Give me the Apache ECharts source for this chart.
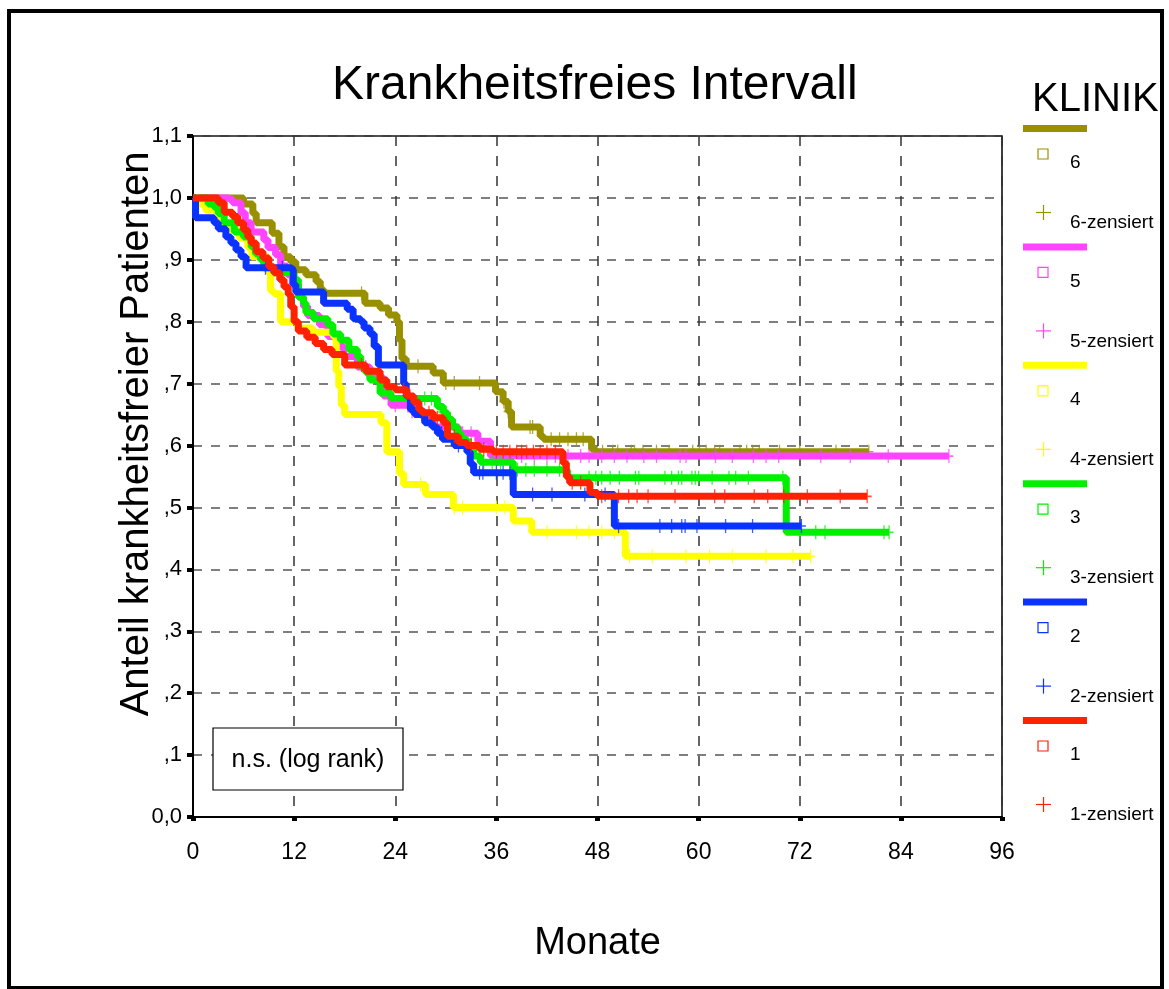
<!DOCTYPE html>
<html>
<head>
<meta charset="utf-8">
<script src="https://cdn.jsdelivr.net/npm/echarts@6/dist/echarts.min.js"></script>
<style>
  html, body { margin: 0; padding: 0; background: #fff; }
  #chart { width: 1169px; height: 989px; }
</style>
</head>
<body>
<div id="chart"></div>
<script>
// Kaplan-Meier steps: [Monate, Anteil] (value after the drop)
const klinik6 = [[0,1],[6.0,0.99],[7.1,0.975],[7.5,0.96],[9.4,0.943],[10.2,0.921],[10.8,0.905],[11.6,0.897],[12.2,0.884],[13.4,0.876],[14.6,0.865],[15.1,0.852],[15.5,0.846],[20.4,0.83],[22.2,0.822],[23.2,0.811],[24.2,0.80],[24.5,0.77],[24.8,0.74],[25.3,0.728],[28.5,0.717],[29.7,0.701],[35.9,0.687],[36.8,0.671],[37.4,0.655],[37.8,0.63],[41.2,0.615],[41.6,0.61],[47.3,0.594],[47.8,0.59],[80.2,0.59]]
const klinik5 = [[0,1],[4.1,0.997],[4.7,0.992],[5.7,0.976],[6.2,0.96],[6.9,0.945],[8.4,0.932],[8.9,0.92],[9.8,0.908],[10.4,0.89],[11.2,0.876],[11.8,0.86],[12.5,0.84],[13.1,0.825],[13.6,0.81],[15.0,0.795],[16.0,0.776],[17.2,0.76],[17.9,0.744],[19.5,0.727],[21.0,0.71],[22.6,0.68],[23.5,0.665],[26.0,0.655],[27.5,0.64],[28.5,0.63],[31.5,0.62],[33.8,0.607],[35.3,0.583],[89.7,0.583]]
const klinik4 = [[0,1],[0.7,0.99],[1.5,0.98],[3.0,0.965],[3.5,0.958],[4.5,0.948],[5.5,0.935],[6.5,0.92],[7.0,0.905],[8.9,0.88],[9.2,0.85],[9.6,0.845],[10.4,0.80],[12.4,0.79],[14.2,0.783],[16.7,0.775],[17.0,0.72],[17.3,0.695],[17.6,0.665],[18.0,0.65],[22.3,0.637],[23.0,0.59],[24.5,0.555],[25.0,0.537],[27.6,0.521],[30.9,0.50],[38.0,0.478],[40.2,0.46],[51.3,0.421],[73.3,0.421]]
const klinik3 = [[0,1],[1.8,0.99],[2.5,0.985],[3.0,0.975],[3.7,0.96],[4.9,0.945],[6.0,0.937],[6.9,0.921],[7.4,0.91],[8.0,0.90],[8.4,0.887],[9.6,0.879],[12.0,0.868],[12.5,0.84],[13.1,0.83],[13.4,0.815],[14.3,0.805],[16.0,0.795],[16.6,0.78],[17.5,0.77],[18.5,0.755],[19.5,0.744],[19.9,0.727],[20.5,0.718],[21.0,0.706],[22.2,0.685],[23.5,0.676],[29.0,0.663],[29.7,0.653],[30.2,0.642],[30.8,0.63],[31.4,0.62],[31.8,0.61],[32.5,0.60],[33.3,0.583],[34.1,0.573],[38.0,0.561],[44.4,0.548],[70.4,0.46],[82.6,0.46]]
const klinik2 = [[0,1],[0.3,0.968],[2.5,0.96],[3.0,0.95],[3.9,0.937],[4.5,0.927],[5.1,0.916],[5.7,0.905],[6.3,0.887],[11.6,0.884],[11.9,0.86],[12.2,0.848],[15.5,0.83],[18.3,0.82],[19.0,0.805],[19.9,0.80],[20.3,0.79],[21.0,0.78],[21.5,0.76],[22.0,0.73],[25.0,0.70],[25.3,0.68],[25.8,0.658],[26.3,0.65],[27.5,0.637],[28.4,0.63],[29.0,0.62],[29.6,0.61],[31.0,0.60],[32.5,0.59],[32.9,0.57],[33.3,0.556],[38.0,0.521],[50.0,0.47],[72.2,0.47]]
const klinik1 = [[0,1],[3.0,0.992],[3.7,0.977],[4.7,0.97],[5.3,0.96],[6.0,0.948],[6.5,0.937],[6.9,0.927],[7.5,0.913],[8.3,0.903],[9.0,0.889],[9.6,0.879],[10.3,0.868],[10.8,0.856],[11.3,0.844],[11.6,0.824],[12.0,0.80],[12.5,0.785],[13.5,0.775],[14.5,0.765],[15.5,0.755],[16.5,0.747],[18.0,0.73],[20.5,0.72],[22.2,0.706],[23.0,0.695],[24.0,0.69],[25.4,0.68],[26.2,0.67],[26.8,0.658],[27.2,0.653],[28.5,0.645],[29.7,0.637],[30.2,0.615],[31.5,0.605],[32.5,0.6],[34.0,0.594],[35.6,0.59],[43.9,0.572],[44.3,0.55],[44.7,0.54],[47.1,0.524],[48.0,0.518],[80.0,0.518]]

// censored times (Monate)
const cens6 = [20.0,26.7,30.0,31.0,34.0,36.9,37.4,40.0,40.3,42.5,43.5,44.5,45.5,46.3,48.6,49.8,50.4,52.0,52.4,53.4,55.0,56.5,59.3,60.1,60.9,61.9,62.5,64.9,65.7,66.4,67.2,69.6,72.0,76.3,80.2]
const cens5 = [20.5,24.0,25.5,26.0,27.0,28.0,29.5,30.0,31.0,32.0,33.0,34.0,36.0,38.0,39.0,40.5,42.0,43.0,44.5,46.0,47.0,48.5,50.0,51.5,53.5,55.0,57.8,58.5,62.0,64.0,66.5,68.0,69.5,74.5,78.0,82.5,89.7]
const cens4 = [27.0,31.0,32.0,36.0,37.0,42.0,45.5,47.0,48.5,50.0,51.8,54.5,58.5,61.3,64.0,68.0,71.2,73.3]
const cens3 = [27.5,28.3,29.2,30.0,31.5,33.0,34.5,35.5,36.5,38.5,39.5,40.5,42.0,43.5,44.8,47.0,47.8,48.5,49.5,50.6,52.5,52.9,56.0,56.8,57.6,58.0,59.2,59.6,60.0,61.6,63.6,64.4,65.9,70.0,72.0,73.9,75.0,82.0,82.6]
const cens2 = [8.6,10.6,29.5,31.5,34.0,34.4,36.0,36.8,37.6,40.3,42.6,46.5,48.9,50.5,55.4,56.8,58.0,58.4,59.8,63.2,66.4,72.2]
const cens1 = [20.0,25.0,28.0,29.0,31.0,33.0,34.5,36.0,36.8,37.6,38.4,39.0,39.6,40.4,41.2,42.0,43.0,45.0,46.0,48.5,50.5,51.7,52.7,54.0,57.2,61.9,63.1,66.6,68.2,70.1,72.9,76.8,80.0]

const groups = ['6', '5', '4', '3', '2', '1']
const steps = [klinik6, klinik5, klinik4, klinik3, klinik2, klinik1]
const censored = [cens6, cens5, cens4, cens3, cens2, cens1]
const COLORS = ['#999000', '#ff44ff', '#ffff00', '#00f000', '#0a33ff', '#ff2200']

const xTicks = [0, 12, 24, 36, 48, 60, 72, 84, 96]

function valueAt(data, t) {
  let v = data[0][1]
  for (const p of data) { if (p[0] <= t) v = p[1] }
  return v
}

const plusPath = 'path://M4.3,0H5.7V12H4.3Z M0,5.3H10V6.7H0Z'
const FONT = '"Liberation Sans", Arial, sans-serif'

const series = []
groups.forEach((g, i) => {
  series.push({
    name: g, type: 'line', step: 'end', data: steps[i],
    symbol: 'none', lineStyle: { color: COLORS[i], width: 7 }, z: 2 + i
  })
  series.push({
    name: g + '-zensiert', type: 'scatter', symbol: plusPath, symbolSize: [9, 14],
    itemStyle: { color: COLORS[i] }, z: 2 + i,
    data: censored[i].map(t => [t, valueAt(steps[i], t)])
  })
})

// legend drawn by hand (bar, square, cross per klinik)
const legendGraphics = []
groups.forEach((g, i) => {
  const y = 129 + i * 118.4
  const c = COLORS[i]
  legendGraphics.push(
    { type: 'rect', shape: { x: 1023, y: y - 4, width: 64, height: 7 }, style: { fill: c } },
    { type: 'rect', shape: { x: 1038, y: y + 20, width: 10, height: 10 }, style: { fill: 'none', stroke: c, lineWidth: 1.2 } },
    { type: 'text', x: 1070, y: y + 34, style: { text: g, fill: '#000', font: '19px ' + FONT, verticalAlign: 'middle' } },
    { type: 'line', shape: { x1: 1043.5, y1: y + 76, x2: 1043.5, y2: y + 91 }, style: { stroke: c, lineWidth: 1.2 } },
    { type: 'line', shape: { x1: 1036, y1: y + 83.5, x2: 1051, y2: y + 83.5 }, style: { stroke: c, lineWidth: 1.2 } },
    { type: 'text', x: 1070, y: y + 94, style: { text: g + '-zensiert', fill: '#000', font: '19px ' + FONT, verticalAlign: 'middle' } }
  )
})

const chart = echarts.init(document.getElementById('chart'), null, { renderer: 'canvas' })
chart.setOption({
  backgroundColor: '#fff',
  animation: false,
  textStyle: { fontFamily: FONT },
  title: {
    text: 'Krankheitsfreies Intervall', left: 327, top: 57,
    textStyle: { fontSize: 48, fontWeight: 'normal', color: '#000' }
  },
  grid: { left: 193, right: 167, top: 136, bottom: 172, show: true, borderColor: '#000', borderWidth: 1.5 },
  xAxis: {
    type: 'value', min: 0, max: 96, interval: 12,
    name: 'Monate', nameLocation: 'middle', nameGap: 108,
    nameTextStyle: { fontSize: 38, color: '#000' },
    axisLine: { lineStyle: { color: '#000', width: 2 } },
    axisTick: { show: true, length: 4, lineStyle: { color: '#000', width: 5 } },
    axisLabel: { color: '#000', fontSize: 23, margin: 24, customValues: xTicks },
    splitLine: { show: true, lineStyle: { color: '#333', type: [10, 10], width: 1.5 } }
  },
  yAxis: {
    type: 'value', min: 0, max: 1.1, interval: 0.1,
    axisLine: { show: true, lineStyle: { color: '#000', width: 2 } },
    axisTick: { show: true, length: 6, lineStyle: { color: '#000', width: 4 } },
    axisLabel: {
      color: '#000', fontSize: 22, margin: 11,
      formatter: v => {
        const s = v.toFixed(1).replace('.', ',')
        return s.startsWith('0,') && v > 0.001 ? s.slice(1) : s
      }
    },
    splitLine: { show: true, lineStyle: { color: '#555', type: [9, 9], width: 1.5 } }
  },
  series: series,
  graphic: [
    { type: 'rect', shape: { x: 9, y: 11, width: 1153, height: 977 }, style: { fill: 'none', stroke: '#000', lineWidth: 4 }, z: 0 },
    { type: 'text', x: 137, y: 434, rotation: Math.PI / 2, style: { text: 'Anteil krankheitsfreier Patienten', fill: '#000', font: '40px ' + FONT, align: 'center', verticalAlign: 'middle' } },
    { type: 'text', x: 1032, y: 100, style: { text: 'KLINIK', fill: '#000', font: '40px ' + FONT, verticalAlign: 'middle' } },
    { type: 'rect', shape: { x: 213, y: 728, width: 190, height: 62 }, style: { fill: '#fff', stroke: '#000', lineWidth: 1.2 }, z: 100 },
    { type: 'text', x: 308, y: 760, style: { text: 'n.s. (log rank)', fill: '#000', font: '25px ' + FONT, align: 'center', verticalAlign: 'middle' }, z: 101 },
    ...legendGraphics
  ]
})
</script>
</body>
</html>
